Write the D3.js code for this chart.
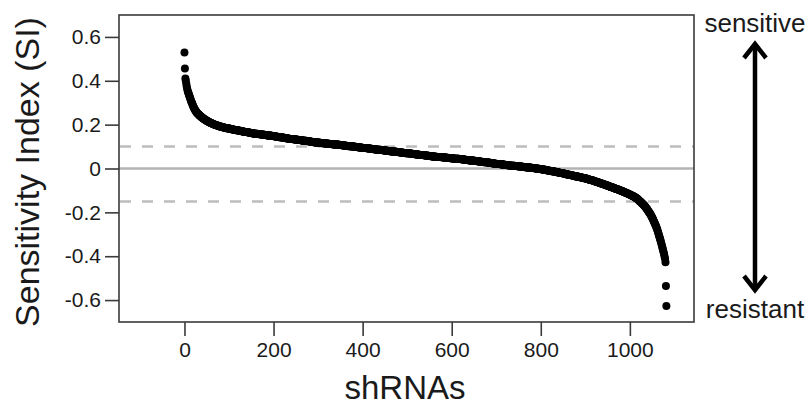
<!DOCTYPE html>
<html>
<head>
<meta charset="utf-8">
<script src="https://cdn.jsdelivr.net/npm/d3@7"></script>
<style>
  body { margin: 0; background: #fff; }
  svg text { font-family: "Liberation Sans", Arial, Helvetica, sans-serif; fill: #1a1a1a; }
</style>
</head>
<body>
<svg id="chart"></svg>
<script>
// Sensitivity index of each shRNA, sorted from most sensitive to most resistant
const siValues = [
  0.529,0.456,0.410,0.400,0.388,0.375,0.365,0.356,0.349,0.343,0.337,0.331,0.325,0.319,0.313,0.307,0.302,0.297,0.292,0.287,
  0.282,0.278,0.274,0.270,0.266,0.263,0.260,0.257,0.254,0.252,0.250,0.248,0.246,0.244,0.242,0.240,0.238,0.237,0.235,0.233,
  0.232,0.230,0.229,0.227,0.226,0.224,0.223,0.222,0.220,0.219,0.218,0.217,0.215,0.214,0.213,0.212,0.211,0.210,0.209,0.208,
  0.207,0.206,0.205,0.204,0.203,0.202,0.202,0.201,0.200,0.199,0.198,0.198,0.197,0.196,0.196,0.195,0.194,0.194,0.193,0.192,
  0.191,0.191,0.190,0.190,0.189,0.189,0.188,0.188,0.187,0.187,0.186,0.186,0.185,0.185,0.184,0.184,0.183,0.183,0.183,0.182,
  0.182,0.181,0.181,0.181,0.180,0.180,0.179,0.179,0.178,0.178,0.178,0.177,0.177,0.176,0.176,0.176,0.175,0.175,0.174,0.174,
  0.174,0.173,0.173,0.172,0.172,0.172,0.171,0.171,0.170,0.170,0.170,0.169,0.169,0.168,0.168,0.168,0.167,0.167,0.166,0.166,
  0.166,0.165,0.165,0.165,0.164,0.164,0.163,0.163,0.163,0.162,0.162,0.162,0.161,0.161,0.160,0.160,0.160,0.159,0.159,0.159,
  0.159,0.158,0.158,0.158,0.157,0.157,0.157,0.157,0.156,0.156,0.156,0.156,0.155,0.155,0.155,0.155,0.154,0.154,0.154,0.154,
  0.154,0.153,0.153,0.153,0.152,0.152,0.152,0.151,0.151,0.151,0.150,0.150,0.150,0.150,0.149,0.149,0.149,0.148,0.148,0.148,
  0.148,0.147,0.147,0.147,0.146,0.146,0.146,0.145,0.145,0.145,0.144,0.144,0.144,0.143,0.143,0.143,0.142,0.142,0.142,0.141,
  0.141,0.141,0.140,0.140,0.140,0.139,0.139,0.139,0.138,0.138,0.138,0.137,0.137,0.137,0.136,0.136,0.136,0.135,0.135,0.135,
  0.135,0.134,0.134,0.134,0.133,0.133,0.133,0.133,0.132,0.132,0.132,0.132,0.131,0.131,0.131,0.131,0.130,0.130,0.130,0.130,
  0.130,0.129,0.129,0.129,0.128,0.128,0.128,0.127,0.127,0.127,0.126,0.126,0.126,0.126,0.125,0.125,0.125,0.124,0.124,0.124,
  0.124,0.123,0.123,0.123,0.122,0.122,0.122,0.121,0.121,0.121,0.120,0.120,0.120,0.120,0.119,0.119,0.119,0.118,0.118,0.118,
  0.118,0.118,0.117,0.117,0.117,0.117,0.116,0.116,0.116,0.116,0.116,0.115,0.115,0.115,0.115,0.115,0.114,0.114,0.114,0.114,
  0.114,0.113,0.113,0.113,0.113,0.113,0.112,0.112,0.112,0.112,0.112,0.111,0.111,0.111,0.111,0.111,0.110,0.110,0.110,0.110,
  0.110,0.109,0.109,0.109,0.109,0.108,0.108,0.108,0.108,0.107,0.107,0.107,0.107,0.106,0.106,0.106,0.106,0.105,0.105,0.105,
  0.105,0.104,0.104,0.104,0.104,0.103,0.103,0.103,0.103,0.102,0.102,0.102,0.102,0.101,0.101,0.101,0.101,0.100,0.100,0.100,
  0.100,0.099,0.099,0.099,0.099,0.098,0.098,0.098,0.098,0.097,0.097,0.097,0.097,0.096,0.096,0.096,0.096,0.095,0.095,0.095,
  0.095,0.094,0.094,0.094,0.094,0.093,0.093,0.093,0.093,0.092,0.092,0.092,0.092,0.091,0.091,0.091,0.091,0.090,0.090,0.090,
  0.090,0.089,0.089,0.089,0.089,0.088,0.088,0.088,0.088,0.087,0.087,0.087,0.087,0.086,0.086,0.086,0.086,0.085,0.085,0.085,
  0.085,0.084,0.084,0.084,0.084,0.083,0.083,0.083,0.083,0.082,0.082,0.082,0.082,0.081,0.081,0.081,0.081,0.080,0.080,0.080,
  0.080,0.079,0.079,0.079,0.079,0.078,0.078,0.078,0.078,0.077,0.077,0.077,0.077,0.076,0.076,0.076,0.076,0.075,0.075,0.075,
  0.075,0.074,0.074,0.074,0.074,0.073,0.073,0.073,0.073,0.072,0.072,0.072,0.072,0.071,0.071,0.071,0.071,0.070,0.070,0.070,
  0.070,0.069,0.069,0.069,0.069,0.068,0.068,0.068,0.068,0.067,0.067,0.067,0.067,0.066,0.066,0.066,0.066,0.065,0.065,0.065,
  0.065,0.064,0.064,0.064,0.064,0.063,0.063,0.063,0.063,0.062,0.062,0.062,0.062,0.061,0.061,0.061,0.061,0.060,0.060,0.060,
  0.060,0.059,0.059,0.059,0.059,0.058,0.058,0.058,0.058,0.057,0.057,0.057,0.057,0.056,0.056,0.056,0.056,0.055,0.055,0.055,
  0.055,0.055,0.054,0.054,0.054,0.054,0.054,0.053,0.053,0.053,0.053,0.053,0.052,0.052,0.052,0.052,0.052,0.051,0.051,0.051,
  0.051,0.051,0.050,0.050,0.050,0.050,0.050,0.049,0.049,0.049,0.049,0.049,0.048,0.048,0.048,0.048,0.048,0.047,0.047,0.047,
  0.047,0.047,0.046,0.046,0.046,0.046,0.046,0.045,0.045,0.045,0.045,0.045,0.044,0.044,0.044,0.044,0.044,0.043,0.043,0.043,
  0.043,0.042,0.042,0.042,0.042,0.041,0.041,0.041,0.041,0.040,0.040,0.040,0.040,0.039,0.039,0.039,0.039,0.038,0.038,0.038,
  0.038,0.037,0.037,0.037,0.037,0.036,0.036,0.036,0.036,0.035,0.035,0.035,0.035,0.034,0.034,0.034,0.034,0.033,0.033,0.033,
  0.033,0.032,0.032,0.032,0.032,0.031,0.031,0.031,0.031,0.030,0.030,0.030,0.030,0.029,0.029,0.029,0.029,0.028,0.028,0.028,
  0.028,0.027,0.027,0.027,0.026,0.026,0.026,0.025,0.025,0.025,0.024,0.024,0.024,0.024,0.023,0.023,0.023,0.022,0.022,0.022,
  0.022,0.021,0.021,0.021,0.021,0.020,0.020,0.020,0.020,0.019,0.019,0.019,0.019,0.018,0.018,0.018,0.018,0.017,0.017,0.017,
  0.017,0.016,0.016,0.016,0.016,0.015,0.015,0.015,0.015,0.014,0.014,0.014,0.014,0.013,0.013,0.013,0.013,0.012,0.012,0.012,
  0.012,0.012,0.011,0.011,0.011,0.011,0.011,0.010,0.010,0.010,0.010,0.010,0.009,0.009,0.009,0.009,0.009,0.008,0.008,0.008,
  0.008,0.007,0.007,0.007,0.007,0.006,0.006,0.006,0.006,0.005,0.005,0.005,0.005,0.004,0.004,0.004,0.004,0.003,0.003,0.003,
  0.003,0.002,0.002,0.002,0.002,0.001,0.001,0.001,0.001,0.000,0.000,0.000,0.000,-0.001,-0.001,-0.001,-0.001,-0.002,-0.002,-0.002,
  -0.002,-0.003,-0.003,-0.004,-0.004,-0.004,-0.005,-0.005,-0.006,-0.006,-0.006,-0.007,-0.007,-0.008,-0.008,-0.008,-0.009,-0.009,-0.010,-0.010,
  -0.010,-0.010,-0.011,-0.011,-0.012,-0.012,-0.012,-0.013,-0.013,-0.014,-0.014,-0.014,-0.015,-0.015,-0.016,-0.016,-0.016,-0.017,-0.017,-0.018,
  -0.018,-0.018,-0.019,-0.019,-0.020,-0.020,-0.021,-0.021,-0.022,-0.022,-0.022,-0.023,-0.023,-0.024,-0.024,-0.025,-0.025,-0.026,-0.026,-0.027,
  -0.027,-0.027,-0.028,-0.028,-0.029,-0.029,-0.030,-0.030,-0.031,-0.031,-0.031,-0.032,-0.032,-0.033,-0.033,-0.034,-0.034,-0.035,-0.035,-0.036,
  -0.036,-0.036,-0.037,-0.037,-0.038,-0.038,-0.039,-0.039,-0.040,-0.040,-0.040,-0.041,-0.041,-0.042,-0.042,-0.043,-0.043,-0.044,-0.044,-0.045,
  -0.045,-0.046,-0.046,-0.047,-0.047,-0.048,-0.049,-0.049,-0.050,-0.050,-0.051,-0.052,-0.052,-0.053,-0.053,-0.054,-0.055,-0.055,-0.056,-0.056,
  -0.057,-0.058,-0.058,-0.059,-0.060,-0.060,-0.061,-0.062,-0.063,-0.063,-0.064,-0.065,-0.065,-0.066,-0.067,-0.067,-0.068,-0.069,-0.069,-0.070,
  -0.071,-0.072,-0.072,-0.073,-0.074,-0.075,-0.075,-0.076,-0.077,-0.078,-0.078,-0.079,-0.080,-0.081,-0.081,-0.082,-0.083,-0.084,-0.084,-0.085,
  -0.086,-0.087,-0.087,-0.088,-0.089,-0.090,-0.090,-0.091,-0.092,-0.093,-0.093,-0.094,-0.095,-0.096,-0.096,-0.097,-0.098,-0.099,-0.099,-0.100,
  -0.101,-0.102,-0.103,-0.104,-0.105,-0.105,-0.106,-0.107,-0.108,-0.109,-0.110,-0.111,-0.112,-0.112,-0.113,-0.114,-0.115,-0.116,-0.117,-0.118,
  -0.119,-0.120,-0.121,-0.122,-0.123,-0.124,-0.125,-0.126,-0.127,-0.128,-0.129,-0.130,-0.132,-0.133,-0.134,-0.136,-0.137,-0.139,-0.140,-0.142,
  -0.145,-0.147,-0.149,-0.150,-0.152,-0.154,-0.156,-0.158,-0.160,-0.162,-0.164,-0.166,-0.168,-0.170,-0.173,-0.175,-0.178,-0.181,-0.184,-0.187,
  -0.190,-0.193,-0.196,-0.199,-0.202,-0.205,-0.208,-0.212,-0.216,-0.220,-0.224,-0.228,-0.232,-0.237,-0.242,-0.246,-0.250,-0.255,-0.260,-0.265,
  -0.270,-0.276,-0.282,-0.288,-0.295,-0.302,-0.309,-0.316,-0.323,-0.330,-0.337,-0.344,-0.352,-0.360,-0.368,-0.376,-0.384,-0.392,-0.402,-0.412,
  -0.427,-0.536,-0.627
];

// axis ticks
const xTicks = [0, 200, 400, 600, 800, 1000];
const yTicks = [-0.6, -0.4, -0.2, 0, 0.2, 0.4, 0.6];

// cut-offs drawn as dashed lines
const sensitiveCut = 0.1;
const resistantCut = -0.15;

const width = 810;
const height = 409;
const plot = { left: 119, right: 694, top: 15, bottom: 322 };

const svg = d3.select("#chart")
  .attr("width", width)
  .attr("height", height);

const x = d3.scaleLinear()
  .domain([-147, 1144])
  .range([plot.left, plot.right]);

const y = d3.scaleLinear()
  .domain([-0.7, 0.7])
  .range([plot.bottom, plot.top]);

// zero line
svg.append("line")
  .attr("x1", plot.left).attr("x2", plot.right)
  .attr("y1", y(0)).attr("y2", y(0))
  .attr("stroke", "#b3b3b3")
  .attr("stroke-width", 2.5);

// threshold lines
svg.selectAll(".cut")
  .data([sensitiveCut, resistantCut])
  .enter().append("line")
  .attr("class", "cut")
  .attr("x1", plot.left + 1).attr("x2", plot.right)
  .attr("y1", d => y(d)).attr("y2", d => y(d))
  .attr("stroke", "#bdbdbd")
  .attr("stroke-width", 2.5)
  .attr("stroke-dasharray", "11,11");

// shRNA points
svg.append("g")
  .selectAll("circle")
  .data(siValues)
  .enter().append("circle")
  .attr("cx", (d, i) => x(i))
  .attr("cy", d => y(d))
  .attr("r", 4)
  .attr("fill", "#000");

// frame
svg.append("rect")
  .attr("x", plot.left).attr("y", plot.top)
  .attr("width", plot.right - plot.left)
  .attr("height", plot.bottom - plot.top)
  .attr("fill", "none")
  .attr("stroke", "#3a3a3a")
  .attr("stroke-width", 1.6);

// axes
const yAxis = svg.append("g")
  .attr("transform", `translate(${plot.left},0)`)
  .call(d3.axisLeft(y)
    .tickValues(yTicks)
    .tickSize(14)
    .tickPadding(4)
    .tickFormat(d => d === 0 ? "0" : d.toFixed(1)));

const xAxis = svg.append("g")
  .attr("transform", `translate(0,${plot.bottom})`)
  .call(d3.axisBottom(x)
    .tickValues(xTicks)
    .tickSize(14)
    .tickPadding(6)
    .tickFormat(d3.format("d")));

[yAxis, xAxis].forEach(g => {
  g.select(".domain").remove();
  g.selectAll(".tick line").attr("stroke", "#3a3a3a").attr("stroke-width", 1.6);
  g.selectAll(".tick text")
    .style("font-size", "21px")
    .attr("fill", "#1a1a1a");
});

// axis titles
svg.append("text")
  .attr("transform", "translate(39,172) rotate(-90)")
  .attr("text-anchor", "middle")
  .style("font-size", "34px")
  .text("Sensitivity Index (SI)");

svg.append("text")
  .attr("x", 405)
  .attr("y", 399)
  .attr("text-anchor", "middle")
  .style("font-size", "33px")
  .text("shRNAs");

// sensitive / resistant arrow
const arrowX = 755;
svg.append("text")
  .attr("x", arrowX).attr("y", 32)
  .attr("text-anchor", "middle")
  .style("font-size", "26px")
  .text("sensitive");

svg.append("text")
  .attr("x", arrowX).attr("y", 318)
  .attr("text-anchor", "middle")
  .style("font-size", "26px")
  .text("resistant");

const arrow = svg.append("g")
  .attr("stroke", "#000")
  .attr("stroke-width", 4.5)
  .attr("fill", "none");

arrow.append("line")
  .attr("x1", arrowX).attr("x2", arrowX)
  .attr("y1", 44).attr("y2", 290);

arrow.append("path")
  .attr("d", `M${arrowX - 11},58 L${arrowX},44 L${arrowX + 11},58`);

arrow.append("path")
  .attr("d", `M${arrowX - 11},276 L${arrowX},290 L${arrowX + 11},276`);
</script>
</body>
</html>
